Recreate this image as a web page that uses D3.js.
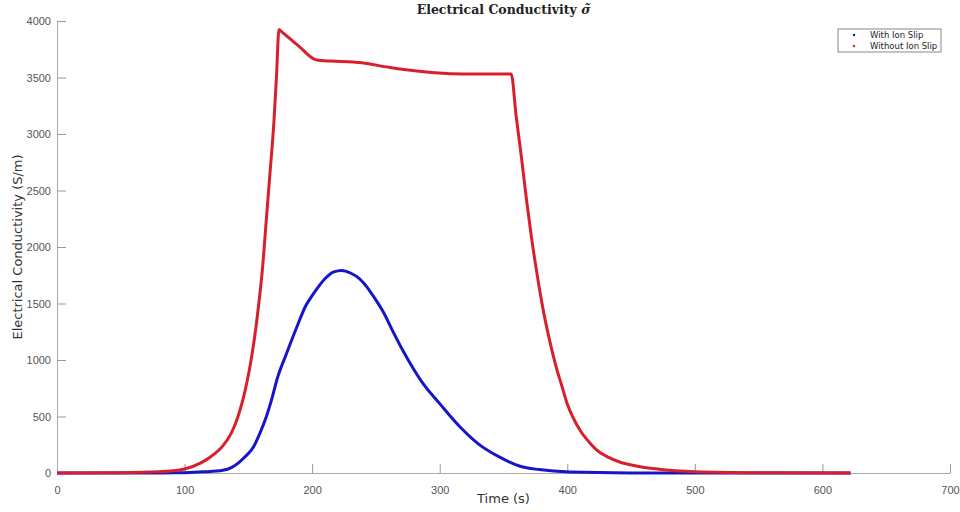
<!DOCTYPE html>
<html>
<head>
<meta charset="utf-8">
<script src="https://cdn.jsdelivr.net/npm/d3@7"></script>
<style>
  body { margin: 0; background: #fff; }
  svg { display: block; font-family: "DejaVu Sans", sans-serif; }
</style>
</head>
<body>
<svg id="chart" width="960" height="512"></svg>
<script>
// data
const timeWith = [0, 50, 80, 100, 115, 130, 137, 143, 148, 154, 159, 164, 168, 173, 180, 188, 195, 200, 205, 211, 217, 223, 230, 237, 244, 250, 256, 263, 271, 279, 287, 300, 316, 330, 347, 363, 378, 402, 450, 500, 560, 622];
const condWith = [0, 0, 1, 3, 10, 24, 50, 97, 150, 230, 350, 495, 640, 849, 1060, 1292, 1480, 1570, 1650, 1730, 1780, 1793, 1770, 1720, 1630, 1530, 1420, 1260, 1086, 930, 791, 614, 407, 260, 140, 60, 30, 9, 1, 0, 0, 0];

const timeWithout = [0, 50, 80, 100, 112, 120, 130, 136, 140, 143, 146, 149, 152, 155, 158, 161, 164, 167, 170, 172, 174, 176, 190, 202, 207, 215, 239, 260, 282, 308, 330, 356, 360, 364, 368, 372, 376, 381, 386, 391, 396, 400, 405, 410, 417, 423, 432, 441, 455, 467, 485, 500, 550, 622];
const condWithout = [0, 2, 10, 35, 85, 140, 240, 340, 440, 540, 660, 810, 990, 1210, 1480, 1800, 2230, 2660, 3100, 3500, 3925, 3906, 3773, 3660, 3650, 3645, 3630, 3590, 3557, 3534, 3530, 3530, 3150, 2800, 2420, 2080, 1780, 1450, 1180, 950, 760, 610, 480, 378, 275, 205, 140, 97, 60, 39, 20, 12, 3, 0];

const xTicks = [0, 100, 200, 300, 400, 500, 600, 700];
const yTicks = [0, 500, 1000, 1500, 2000, 2500, 3000, 3500, 4000];

const series = [
  { name: "With Ion Slip", color: "#1616c8", t: timeWith, v: condWith },
  { name: "Without Ion Slip", color: "#d7202c", t: timeWithout, v: condWithout }
];

const margin = { top: 21, right: 10, bottom: 39, left: 57 };
const svg = d3.select("#chart");
const width = 960 - margin.left - margin.right;
const height = 512 - margin.top - margin.bottom;

const g = svg.append("g").attr("transform", `translate(${margin.left},${margin.top})`);

const x = d3.scaleLinear().domain([0, 700]).range([0, width]);
const y = d3.scaleLinear().domain([0, 4000]).range([height, 0]);

// axes - ticks pointing inward like matlab
const xAxis = g.append("g")
  .attr("transform", `translate(0,${height})`)
  .call(d3.axisBottom(x).tickValues(xTicks).tickFormat(d3.format("d")).tickSizeInner(-9).tickSizeOuter(0).tickPadding(13));
const yAxis = g.append("g")
  .call(d3.axisLeft(y).tickValues(yTicks).tickFormat(d3.format("d")).tickSizeInner(-9).tickSizeOuter(0).tickPadding(6));

[xAxis, yAxis].forEach(a => {
  a.select(".domain").attr("stroke", "#aaa");
  a.selectAll(".tick line").attr("stroke", "#999");
  a.selectAll(".tick text").attr("fill", "#555").style("font-size", "11px");
});

// lines
const line = d3.line()
  .x(d => x(d[0]))
  .y(d => y(d[1]))
  .curve(d3.curveMonotoneX);

g.selectAll(".series")
  .data(series)
  .enter()
  .append("path")
  .attr("class", "series")
  .attr("fill", "none")
  .attr("stroke", d => d.color)
  .attr("stroke-width", 3)
  .attr("stroke-linejoin", "round")
  .attr("d", d => line(d.t.map((t, i) => [t, d.v[i]])));

// title
const title = svg.append("text")
  .attr("x", margin.left + width / 2)
  .attr("y", 14)
  .attr("text-anchor", "middle")
  .style("font-family", "'DejaVu Serif', serif")
  .style("font-weight", "bold")
  .style("font-size", "12.5px")
  .attr("fill", "#222");
title.append("tspan").text("Electrical Conductivity ");
title.append("tspan")
  .style("font-style", "italic")
  .text("\u03C3\u0303");

// axis labels
svg.append("text")
  .attr("x", margin.left + width / 2)
  .attr("y", 503)
  .attr("text-anchor", "middle")
  .style("font-size", "13px")
  .attr("fill", "#333")
  .text("Time (s)");

svg.append("text")
  .attr("transform", `translate(22,${margin.top + height / 2}) rotate(-90)`)
  .attr("text-anchor", "middle")
  .style("font-size", "13px")
  .attr("fill", "#333")
  .text("Electrical Conductivity (S/m)");

// legend
const legend = svg.append("g").attr("transform", "translate(838,29)");
legend.append("rect")
  .attr("width", 103)
  .attr("height", 23)
  .attr("fill", "#fff")
  .attr("stroke", "#888")
  .attr("stroke-width", 1);

const item = legend.selectAll(".item")
  .data(series)
  .enter()
  .append("g")
  .attr("class", "item")
  .attr("transform", (d, i) => `translate(0,${6 + i * 11})`);

item.append("circle")
  .attr("cx", 16)
  .attr("cy", 0)
  .attr("r", 1.2)
  .attr("fill", d => d.color);

item.append("text")
  .attr("x", 32)
  .attr("y", 3)
  .style("font-size", "8.5px")
  .attr("fill", "#222")
  .text(d => d.name);
</script>
</body>
</html>
